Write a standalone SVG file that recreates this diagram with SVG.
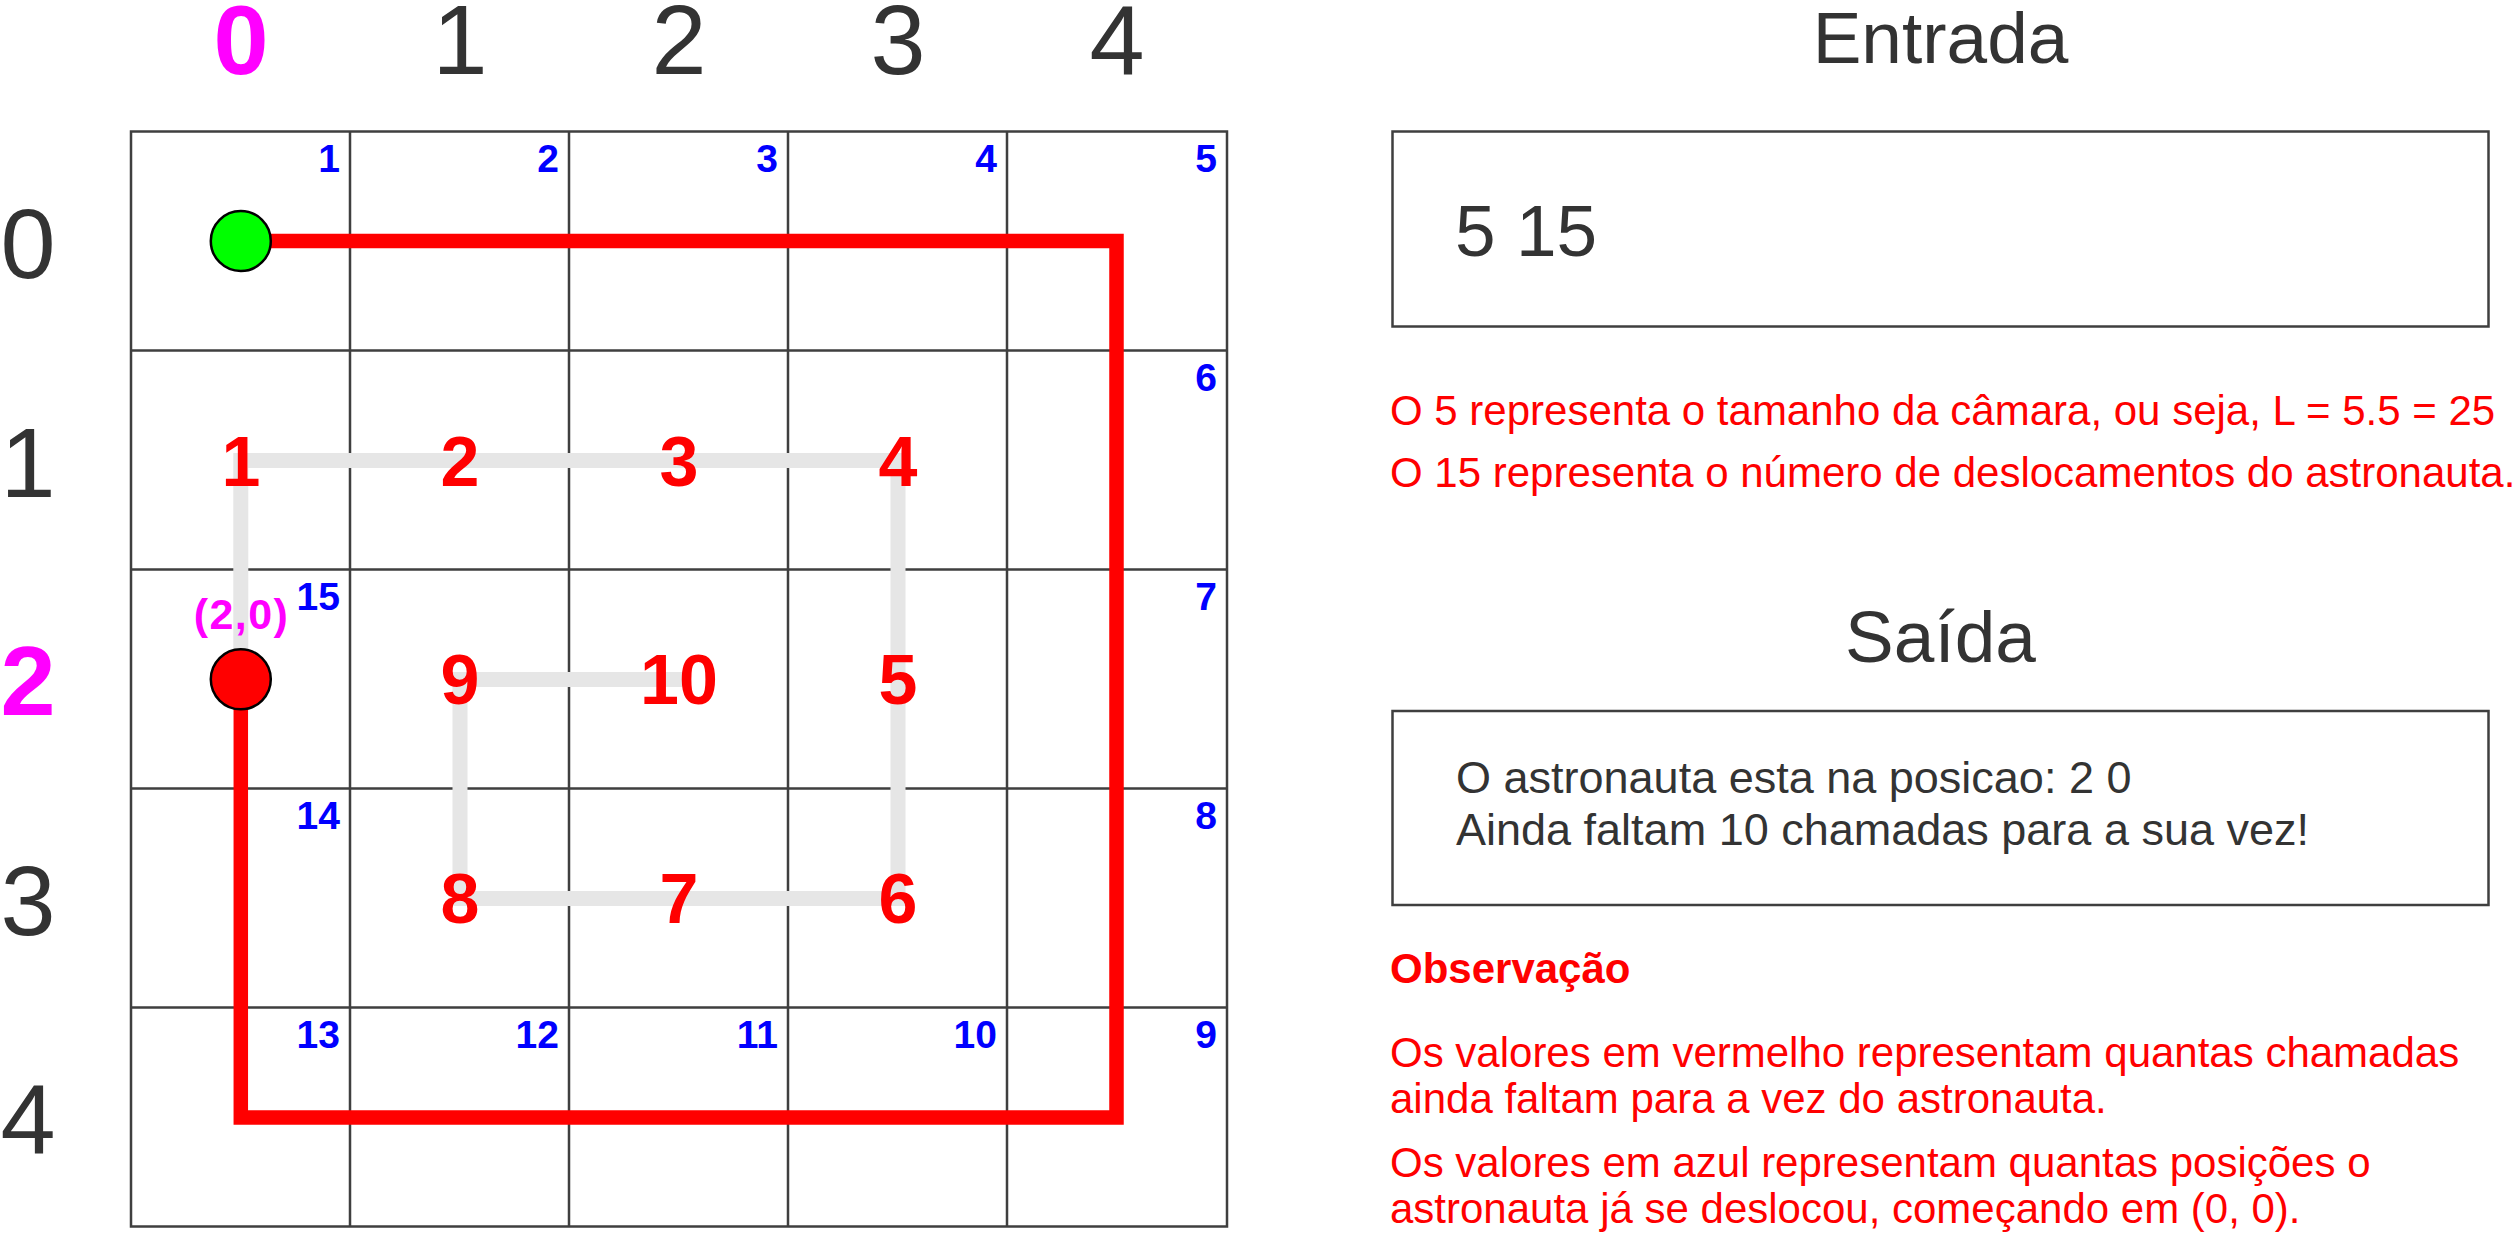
<svg xmlns="http://www.w3.org/2000/svg" width="2518" height="1235" viewBox="0 0 2518 1235">
<style>
.grid{fill:none;stroke:#3f3f3f;stroke-width:2.5}
.lab{font-family:"Liberation Sans",Arial,sans-serif;font-size:99px;fill:#333333;text-anchor:middle}
.labm{font-family:"Liberation Sans",Arial,sans-serif;font-size:99px;fill:#ff00ff;font-weight:bold;text-anchor:middle}
.red{font-family:"Liberation Sans",Arial,sans-serif;font-size:70px;font-weight:bold;fill:#ff0000;text-anchor:middle}
.blue{font-family:"Liberation Sans",Arial,sans-serif;font-size:39px;font-weight:bold;fill:#0000ff;text-anchor:end}
.title{font-family:"Liberation Sans",Arial,sans-serif;font-size:73px;fill:#333333;text-anchor:middle}
.box{fill:#ffffff;stroke:#3f3f3f;stroke-width:2.5}
.note{font-family:"Liberation Sans",Arial,sans-serif;font-size:42px;fill:#ff0000}
.out{font-family:"Liberation Sans",Arial,sans-serif;font-size:45px;fill:#333333}
.big{font-family:"Liberation Sans",Arial,sans-serif;font-size:73px;fill:#333333}
</style>
<rect width="2518" height="1235" fill="#ffffff"/>
<g id="axis-labels">
<text class="labm" x="241" y="74">0</text>
<text class="lab" x="460" y="74">1</text>
<text class="lab" x="679" y="74">2</text>
<text class="lab" x="898" y="74">3</text>
<text class="lab" x="1117" y="74">4</text>
<text class="lab" x="28" y="278">0</text>
<text class="lab" x="28" y="497">1</text>
<text class="labm" x="28" y="715">2</text>
<text class="lab" x="28" y="935">3</text>
<text class="lab" x="28" y="1153">4</text>
</g>
<g id="grid">
<rect class="grid" x="131" y="131.5" width="1096" height="1095"/>
<path class="grid" d="M350 131.5V1226.5M569 131.5V1226.5M788 131.5V1226.5M1007 131.5V1226.5M131 350.5H1227M131 569.5H1227M131 788.5H1227M131 1007.5H1227"/>
</g>
<g id="blue-numbers">
<text class="blue" x="340" y="171.5">1</text>
<text class="blue" x="559" y="171.5">2</text>
<text class="blue" x="778" y="171.5">3</text>
<text class="blue" x="997" y="171.5">4</text>
<text class="blue" x="1217" y="171.5">5</text>
<text class="blue" x="1217" y="390.5">6</text>
<text class="blue" x="1217" y="609.5">7</text>
<text class="blue" x="1217" y="828.5">8</text>
<text class="blue" x="1217" y="1047.5">9</text>
<text class="blue" x="997" y="1047.5">10</text>
<text class="blue" x="778" y="1047.5">11</text>
<text class="blue" x="559" y="1047.5">12</text>
<text class="blue" x="340" y="1047.5">13</text>
<text class="blue" x="340" y="828.5">14</text>
<text class="blue" x="340" y="609.5">15</text>
</g>
<g id="connectors">
<path id="gray-path" d="M240.8 650V460.5H898V898.5H460V679.5H684" fill="none" stroke="#e6e6e6" stroke-width="15" stroke-linejoin="miter"/>
<path id="red-path" d="M240.8 241H1116.5V1117.5H240.8V679" fill="none" stroke="#ff0000" stroke-width="14.5" stroke-linejoin="miter"/>
</g>
<g id="start-node">
<circle cx="240.8" cy="241" r="30" fill="#00ff00" stroke="#000000" stroke-width="2.5"/>
</g>
<g id="end-node">
<circle cx="240.8" cy="679.3" r="30" fill="#ff0000" stroke="#000000" stroke-width="2.5"/>
<text x="240.8" y="628.5" font-family="Liberation Sans, Arial, sans-serif" font-size="43" font-weight="bold" fill="#ff00ff" text-anchor="middle" textLength="94">(2,0)</text>
</g>
<g id="red-numbers">
<text class="red" x="241" y="486">1</text>
<text class="red" x="460" y="486">2</text>
<text class="red" x="679" y="486">3</text>
<text class="red" x="898" y="486">4</text>
<text class="red" x="898" y="704">5</text>
<text class="red" x="898" y="923">6</text>
<text class="red" x="679" y="923">7</text>
<text class="red" x="460" y="923">8</text>
<text class="red" x="460" y="704">9</text>
<text class="red" x="679" y="704">10</text>
</g>
<g id="entrada">
<text class="title" x="1940.5" y="63">Entrada</text>
<rect class="box" x="1392.5" y="131.5" width="1096" height="195"/>
<text class="big" x="1455" y="256">5 15</text>
<text class="note" x="1390" y="425">O 5 representa o tamanho da câmara, ou seja, L = 5.5 = 25</text>
<text class="note" x="1390" y="486.5">O 15 representa o número de deslocamentos do astronauta.</text>
</g>
<g id="saida">
<text class="title" x="1940.5" y="662">Saída</text>
<rect class="box" x="1392.5" y="711" width="1096" height="194"/>
<text class="out" x="1456" y="793">O astronauta esta na posicao: 2 0</text>
<text class="out" x="1456" y="845">Ainda faltam 10 chamadas para a sua vez!</text>
</g>
<g id="observacao">
<text class="note" x="1390" y="983" font-weight="bold">Observação</text>
<text class="note" x="1390" y="1066.5">Os valores em vermelho representam quantas chamadas</text>
<text class="note" x="1390" y="1113">ainda faltam para a vez do astronauta.</text>
<text class="note" x="1390" y="1176.5">Os valores em azul representam quantas posições o</text>
<text class="note" x="1390" y="1223">astronauta já se deslocou, começando em (0, 0).</text>
</g>
</svg>
